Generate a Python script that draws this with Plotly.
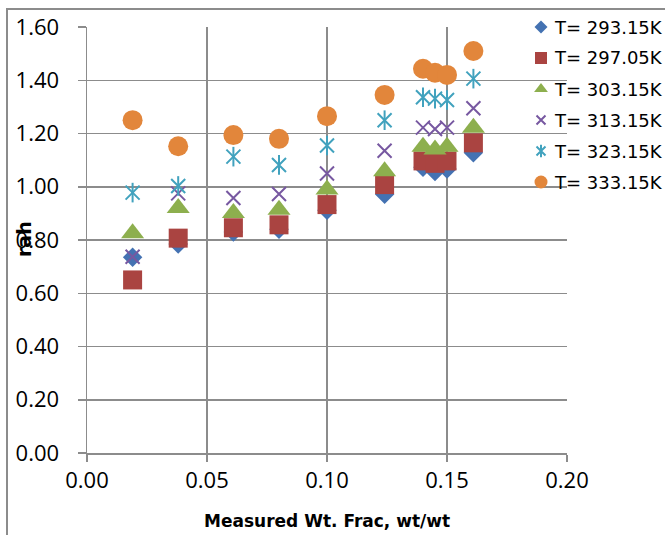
import plotly.graph_objects as go

# Measured weight fraction (wt/wt) for each sample
wt_frac = [0.019, 0.038, 0.061, 0.080, 0.100, 0.124, 0.140, 0.145, 0.150, 0.161]

# Ratio values per temperature
r_293 = [0.735, 0.785, 0.830, 0.840, 0.912, 0.972, 1.073, 1.057, 1.067, 1.128]
r_297 = [0.650, 0.807, 0.846, 0.857, 0.933, 1.008, 1.097, 1.088, 1.097, 1.165]
r_303 = [0.825, 0.920, 0.901, 0.914, 0.990, 1.058, 1.150, 1.140, 1.150, 1.222]
r_313 = [0.737, 0.975, 0.958, 0.973, 1.050, 1.135, 1.222, 1.217, 1.222, 1.295]
r_323 = [0.978, 1.003, 1.113, 1.082, 1.155, 1.250, 1.336, 1.331, 1.326, 1.406]
r_333 = [1.250, 1.152, 1.194, 1.180, 1.265, 1.345, 1.443, 1.428, 1.420, 1.510]

series_labels = ["T= 293.15K", "T= 297.05K", "T= 303.15K",
                 "T= 313.15K", "T= 323.15K", "T= 333.15K"]

x_ticks = [0.00, 0.05, 0.10, 0.15, 0.20]
y_ticks = [0.00, 0.20, 0.40, 0.60, 0.80, 1.00, 1.20, 1.40, 1.60]

colors = ["#4472B2", "#AA4441", "#8DAF4E", "#7758A1", "#41A2BE", "#E2863B"]
GRID = "#8c8c8c"

W, H = 665, 535
L, R, T, B = 87, 567, 27, 453          # plot-area edges in pixels


def fx(px):
    """pixel column -> paper fraction"""
    return px / W


def fy(py):
    """pixel row (from top) -> paper fraction"""
    return 1 - py / H


def filled(sym, size, color):
    return dict(symbol=sym, size=size, color=color, line=dict(width=0))


def stroked(sym, size, color):
    return dict(symbol=sym, size=size, color=color, line=dict(color=color, width=2))


fig = go.Figure()

# --- data series ---
fig.add_trace(go.Scatter(x=wt_frac, y=r_293, mode="markers",
                         marker=filled("diamond", 15, colors[0])))
fig.add_trace(go.Scatter(x=wt_frac, y=r_297, mode="markers",
                         marker=filled("square", 19, colors[1])))
fig.add_trace(go.Scatter(x=wt_frac, y=r_303, mode="markers",
                         marker=filled("triangle-up", 20, colors[2])))
fig.add_trace(go.Scatter(x=wt_frac, y=r_313, mode="markers",
                         marker=stroked("x-thin-open", 14, colors[3])))
# six-armed star: an X plus a vertical bar
fig.add_trace(go.Scatter(x=wt_frac, y=r_323, mode="markers",
                         marker=stroked("x-thin-open", 14, colors[4])))
fig.add_trace(go.Scatter(x=wt_frac, y=r_323, mode="markers",
                         marker=stroked("line-ns-open", 14, colors[4])))
fig.add_trace(go.Scatter(x=wt_frac, y=r_333, mode="markers",
                         marker=filled("circle", 20, colors[5])))

# --- legend swatches on full-page pixel axes, labels as annotations ---
leg_x = 541
leg_y = [27 + 31 * i for i in range(len(series_labels))]
leg_markers = [filled("diamond", 10, colors[0]),
               filled("square", 12, colors[1]),
               filled("triangle-up", 12, colors[2]),
               stroked("x-thin-open", 9, colors[3]),
               stroked("x-thin-open", 9, colors[4]),
               filled("circle", 13, colors[5])]
for i, lab in enumerate(series_labels):
    fig.add_trace(go.Scatter(x=[leg_x], y=[leg_y[i]], mode="markers",
                             marker=leg_markers[i],
                             xaxis="x2", yaxis="y2", cliponaxis=False))
    fig.add_annotation(x=fx(552), y=fy(leg_y[i]), xref="paper", yref="paper",
                       text=lab, showarrow=False, xanchor="left", yanchor="middle",
                       font=dict(family="DejaVu Sans", size=18, color="#000000"))
fig.add_trace(go.Scatter(x=[leg_x], y=[leg_y[4]], mode="markers",
                         marker=stroked("line-ns-open", 9, colors[4]),
                         xaxis="x2", yaxis="y2", cliponaxis=False))

# --- axis titles ---
fig.add_annotation(x=fx(327), y=fy(521), xref="paper", yref="paper",
                   text="<b>Measured Wt. Frac, wt/wt</b>", showarrow=False,
                   xanchor="center", yanchor="middle",
                   font=dict(family="DejaVu Sans", size=17, color="#000000"))
fig.add_annotation(x=fx(24), y=fy(239), xref="paper", yref="paper",
                   text="<b>rah</b>", showarrow=False, textangle=-90,
                   xanchor="center", yanchor="middle",
                   font=dict(family="DejaVu Sans", size=19, color="#000000"))

# --- chart-area frame: an empty bordered box whose right/bottom run off-page ---
fig.add_annotation(x=fx(6), y=fy(8), xref="paper", yref="paper",
                   text=" ", showarrow=False, xanchor="left", yanchor="top",
                   width=W + 20, height=H + 20, borderpad=0, borderwidth=2,
                   bordercolor="#8c8c8c", bgcolor="rgba(0,0,0,0)",
                   font=dict(size=10))

tick_font = dict(family="Open Sans", size=22, color="#000000")

fig.update_layout(
    width=W, height=H,
    margin=dict(l=0, r=0, t=0, b=0, pad=0, autoexpand=False),
    paper_bgcolor="white", plot_bgcolor="rgba(0,0,0,0)",
    showlegend=False,
    xaxis=dict(domain=[fx(L), fx(R)], range=[0, 0.2], tickvals=x_ticks,
               ticktext=[f"{v:.2f}" for v in x_ticks], automargin=False,
               showgrid=True, gridcolor=GRID, gridwidth=1.5,
               showline=True, linecolor=GRID, linewidth=1.5,
               zeroline=False, ticks="outside", ticklen=7, tickcolor=GRID,
               tickwidth=1.5, tickfont=tick_font, ticklabelstandoff=0),
    yaxis=dict(domain=[fy(B), fy(T)], range=[0, 1.6], tickvals=y_ticks,
               ticktext=[f"{v:.2f}" for v in y_ticks], automargin=False,
               showgrid=True, gridcolor=GRID, gridwidth=1.5,
               showline=True, linecolor=GRID, linewidth=1.5,
               zeroline=False, ticks="outside", ticklen=8, tickcolor=GRID,
               tickwidth=1.5, tickfont=tick_font, ticklabelstandoff=14),
    xaxis2=dict(domain=[0, 1], anchor="y2", range=[0, W], visible=False,
                fixedrange=True, automargin=False),
    yaxis2=dict(domain=[0, 1], anchor="x2", range=[H, 0], visible=False,
                fixedrange=True, automargin=False),
)

fig.write_html("out.html", config={"staticPlot": True})
